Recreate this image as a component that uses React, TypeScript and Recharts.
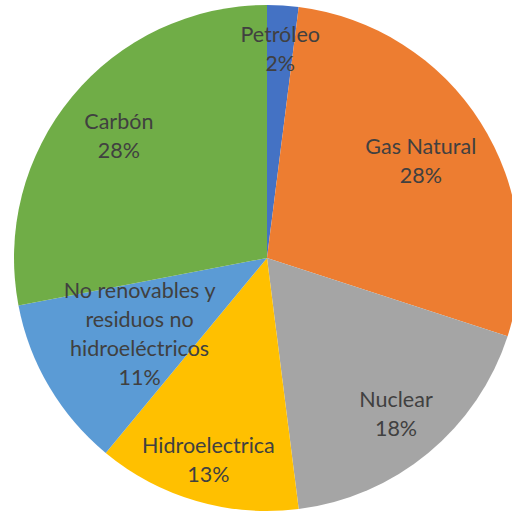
import React from "react";
import { PieChart, Pie, Cell } from "recharts";

const categories = [
  "Petróleo",
  "Gas Natural",
  "Nuclear",
  "Hidroelectrica",
  "No renovables y residuos no hidroeléctricos",
  "Carbón",
];
const values = [2, 28, 18, 13, 11, 28];
const labelLines = [
  ["Petróleo"],
  ["Gas Natural"],
  ["Nuclear"],
  ["Hidroelectrica"],
  ["No renovables y", "residuos no", "hidroeléctricos"],
  ["Carbón"],
];

const colors = ["#4472C4", "#ED7D31", "#A5A5A5", "#FFC000", "#5B9BD5", "#70AD47"];
const labelRadius = [0.83, 0.72, 0.8, 0.83, 0.585, 0.76];

const data = categories.map((name, i) => ({ name, value: values[i] }));

const RAD = Math.PI / 180;
const LINE_H = 29;

const renderLabel = (props: any) => {
  const { cx, cy, midAngle, outerRadius, index, value } = props;
  const r = outerRadius * labelRadius[index];
  const x = cx + r * Math.cos(-midAngle * RAD);
  const y = cy + r * Math.sin(-midAngle * RAD);
  const lines = [...labelLines[index], `${value}%`];
  const startY = y - ((lines.length - 1) * LINE_H) / 2;
  return (
    <text
      x={x}
      y={startY}
      textAnchor="middle"
      dominantBaseline="central"
      fill="#404040"
      fontFamily="Lato, 'Open Sans', sans-serif"
      fontSize={21.5}
    >
      {lines.map((l, i) => (
        <tspan key={i} x={x} y={startY + i * LINE_H} dominantBaseline="central">
          {l}
        </tspan>
      ))}
    </text>
  );
};

export default function App() {
  return (
    <div style={{ position: "absolute", left: 0, top: 0, width: 512, height: 512, background: "#fff" }}>
      <PieChart width={512} height={512} margin={{ top: 0, right: 0, bottom: 0, left: 0 }}>
        <defs>
          <filter id="pieShadow" x="-10%" y="-10%" width="120%" height="120%">
            <feDropShadow dx="0" dy="1" stdDeviation="2" floodColor="#000" floodOpacity="0.25" />
          </filter>
        </defs>
        <Pie
          data={data}
          dataKey="value"
          nameKey="name"
          cx={267}
          cy={258}
          outerRadius={253}
          startAngle={90}
          endAngle={-270}
          stroke="none"
          label={renderLabel}
          labelLine={false}
          isAnimationActive={false}
        >
          {data.map((d, i) => (
            <Cell key={d.name} fill={colors[i]} />
          ))}
        </Pie>
      </PieChart>
    </div>
  );
}
